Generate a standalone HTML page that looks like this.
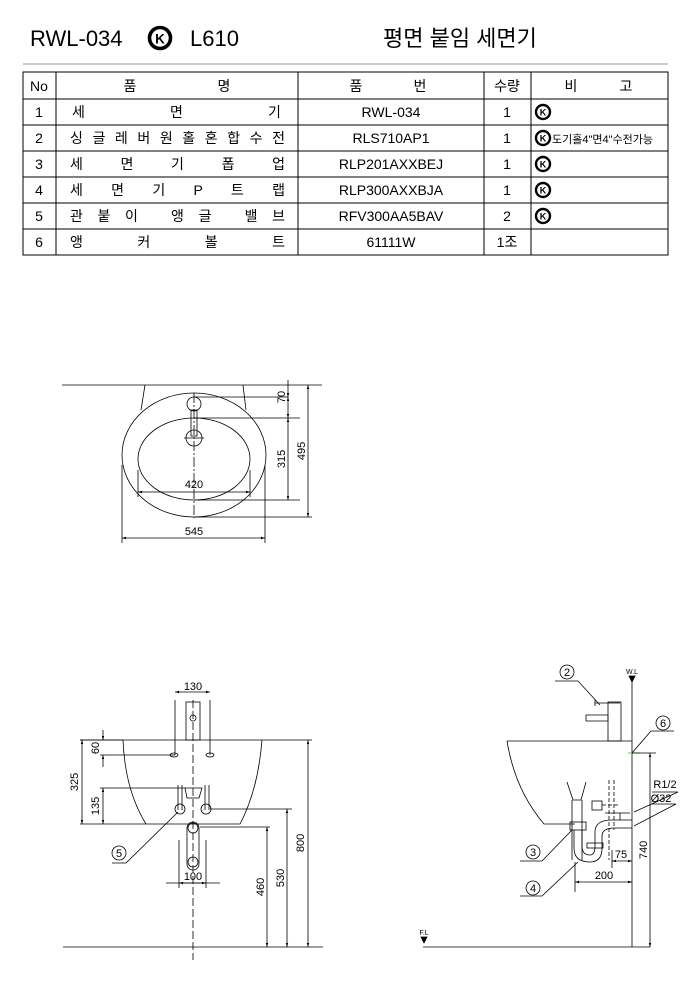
<!DOCTYPE html>
<html><head><meta charset="utf-8"><style>
body{margin:0;background:#fff;}
svg{display:block;font-family:"Liberation Sans","Noto Sans CJK KR",sans-serif;}
</style></head><body>
<svg width="700" height="1006" viewBox="0 0 700 1006" xmlns="http://www.w3.org/2000/svg">
<defs>
<g id="ks"><circle r="7" fill="none" stroke="#000" stroke-width="2.4"/><text x="0" y="3.5" font-size="9" font-weight="bold" text-anchor="middle">K</text></g>
<marker id="a" viewBox="0 0 10 10" refX="10" refY="5" markerWidth="5" markerHeight="5" orient="auto-start-reverse"><path d="M0,2 L10,5 L0,8z" fill="#000"/></marker>
</defs>
<!-- title -->
<text x="30" y="46" font-size="22">RWL-034</text>
<g transform="translate(160,38) scale(1.5)"><use href="#ks"/></g>
<text x="190" y="46" font-size="22">L610</text>
<text x="383" y="46" font-size="22">평면 붙임 세면기</text>
<line x1="23" y1="64" x2="668" y2="64" stroke="#999" stroke-width="1"/>
<!-- table -->
<g stroke="#000" stroke-width="1" fill="none">
<rect x="23" y="72" width="645" height="183"/>
<line x1="56" y1="72" x2="56" y2="255"/><line x1="298" y1="72" x2="298" y2="255"/>
<line x1="484" y1="72" x2="484" y2="255"/><line x1="531" y1="72" x2="531" y2="255"/>
<line x1="23" y1="99" x2="668" y2="99"/><line x1="23" y1="125" x2="668" y2="125"/>
<line x1="23" y1="151" x2="668" y2="151"/><line x1="23" y1="177" x2="668" y2="177"/>
<line x1="23" y1="203" x2="668" y2="203"/><line x1="23" y1="229" x2="668" y2="229"/>
</g>
<g font-size="14" text-anchor="middle">
<text x="39" y="91">No</text><text x="130" y="91">품</text><text x="224" y="91">명</text>
<text x="356" y="91">품</text><text x="420" y="91">번</text><text x="507" y="91">수량</text>
<text x="571" y="91">비</text><text x="626" y="91">고</text>
<text x="39" y="117">1</text><text x="39" y="143">2</text><text x="39" y="169">3</text><text x="39" y="195">4</text><text x="39" y="221">5</text><text x="39" y="247">6</text>
<text x="391" y="117">RWL-034</text><text x="391" y="143">RLS710AP1</text><text x="391" y="169">RLP201AXXBEJ</text>
<text x="391" y="195">RLP300AXXBJA</text><text x="391" y="221">RFV300AA5BAV</text><text x="391" y="247">61111W</text>
<text x="507" y="117">1</text><text x="507" y="143">1</text><text x="507" y="169">1</text><text x="507" y="195">1</text><text x="507" y="221">2</text><text x="507" y="247">1조</text>
</g>
<g font-size="14">
<text x="72" y="117">세</text><text x="170" y="117">면</text><text x="268" y="117">기</text>
<text x="70" y="143" textLength="215" lengthAdjust="spacing">싱글레버원홀혼합수전</text>
<text x="70" y="169" textLength="215" lengthAdjust="spacing">세  면  기  폽  업</text>
<text x="70" y="195" textLength="215" lengthAdjust="spacing">세 면 기 P 트 랩</text>
<text x="70" y="221" textLength="215" lengthAdjust="spacing">관붙이 앵글 밸브</text>
<text x="70" y="247" textLength="215" lengthAdjust="spacing">앵   커   볼   트</text>
<text x="552" y="143" font-size="11">도기홀4"면4"수전가능</text>
</g>
<use href="#ks" x="543" y="112"/><use href="#ks" x="543" y="138"/><use href="#ks" x="543" y="164"/><use href="#ks" x="543" y="190"/><use href="#ks" x="543" y="216"/>

<!-- top view -->
<g stroke="#000" stroke-width="0.8" fill="none">
<line x1="62" y1="385" x2="322" y2="385"/>
<path d="M145,385 L141,410 M243,385 L246,410"/>
<ellipse cx="194" cy="455" rx="72" ry="62"/>
<ellipse cx="194" cy="459" rx="56" ry="41"/>
<circle cx="194" cy="404" r="7"/><circle cx="194" cy="438" r="8"/>
<rect x="191" y="410" width="6" height="26"/>
<line x1="194" y1="393" x2="194" y2="518" stroke-dasharray="10 2 2 2"/>
<line x1="184" y1="438" x2="204" y2="438"/>
<path d="M194,397 L288,397 M194,418 L300,418 M194,500 L300,500 M194,517 L312,517 M122,465 L122,543 M265,465 L265,543 M138,470 L138,497 M250,470 L250,497"/>
<line x1="288" y1="380" x2="288" y2="397" marker-end="url(#a)"/>
<line x1="288" y1="397" x2="288" y2="418" marker-start="url(#a)" marker-end="url(#a)"/>
<line x1="288" y1="418" x2="288" y2="500" marker-start="url(#a)" marker-end="url(#a)"/>
<line x1="308" y1="385" x2="308" y2="517" marker-start="url(#a)" marker-end="url(#a)"/>
<line x1="138" y1="492" x2="250" y2="492" marker-start="url(#a)" marker-end="url(#a)"/>
<line x1="122" y1="538" x2="265" y2="538" marker-start="url(#a)" marker-end="url(#a)"/>
</g>
<g font-size="11" text-anchor="middle">
<text x="194" y="488">420</text><text x="194" y="535">545</text>
<text transform="translate(285,397) rotate(-90)" x="0" y="0">70</text>
<text transform="translate(285,459) rotate(-90)">315</text>
<text transform="translate(305,451) rotate(-90)">495</text>
</g>

<!-- front view -->
<g stroke="#000" stroke-width="0.8" fill="none">
<line x1="80" y1="740" x2="312" y2="740"/>
<path d="M123,740 Q125,790 146,824 L240,824 Q258,790 262,740"/>
<line x1="63" y1="947" x2="323" y2="947"/>
<rect x="186" y="702" width="14" height="38"/>
<circle cx="193" cy="718" r="3"/>
<line x1="193" y1="700" x2="193" y2="960" stroke-dasharray="8 3"/>
<ellipse cx="174" cy="755" rx="4" ry="2"/><ellipse cx="210" cy="755" rx="4" ry="2"/>
<path d="M175,700 L175,755 M210,700 L210,755"/>
<line x1="175" y1="692" x2="210" y2="692" marker-start="url(#a)" marker-end="url(#a)"/>
<path d="M185,788 L202,788 L199,798 L187,798z"/>
<path d="M178,785 L178,810 M182,785 L182,810 M205,785 L205,810 M209,785 L209,810"/>
<circle cx="180" cy="809" r="5"/><circle cx="206" cy="809" r="5"/>
<rect x="187" y="822" width="12" height="48" rx="6"/>
<circle cx="193" cy="828" r="5"/><circle cx="193" cy="862" r="5"/>
<path d="M179,840 L179,888 M206,840 L206,888"/>
<line x1="166" y1="883" x2="220" y2="883"/>
<line x1="179" y1="883" x2="206" y2="883" marker-start="url(#a)" marker-end="url(#a)"/>
<path d="M80,740 L123,740 M80,824 L146,824 M100,755 L175,755 M100,788 L185,788 M210,809 L292,809 M200,827 L270,827"/>
<line x1="82" y1="740" x2="82" y2="824" marker-start="url(#a)" marker-end="url(#a)"/>
<line x1="103" y1="730" x2="103" y2="740" marker-end="url(#a)"/>
<line x1="103" y1="755" x2="103" y2="767" marker-start="url(#a)"/>
<line x1="103" y1="788" x2="103" y2="824" marker-start="url(#a)" marker-end="url(#a)"/>
<line x1="267" y1="827" x2="267" y2="947" marker-start="url(#a)" marker-end="url(#a)"/>
<line x1="287" y1="809" x2="287" y2="947" marker-start="url(#a)" marker-end="url(#a)"/>
<line x1="308" y1="740" x2="308" y2="947" marker-start="url(#a)" marker-end="url(#a)"/>
<circle cx="119" cy="853" r="7"/>
<path d="M112,863 L126,863 L178,812"/>
</g>
<g font-size="11" text-anchor="middle">
<text x="193" y="690">130</text><text x="193" y="880">100</text><text x="119" y="857">5</text>
<text transform="translate(78,782) rotate(-90)">325</text>
<text transform="translate(99,748) rotate(-90)">60</text>
<text transform="translate(99,806) rotate(-90)">135</text>
<text transform="translate(264,887) rotate(-90)">460</text>
<text transform="translate(284,878) rotate(-90)">530</text>
<text transform="translate(304,843) rotate(-90)">800</text>
</g>

<!-- side view -->
<g stroke="#000" stroke-width="0.8" fill="none">
<line x1="632" y1="676" x2="632" y2="947"/>
<path d="M629,676 L635,676 L632,682z" fill="#000"/>
<path d="M507,741 L632,741 M507,741 Q515,790 544,824 L575,824"/>
<line x1="423" y1="947" x2="650" y2="947"/>
<path d="M421,937 L427,937 L424,943z" fill="#000"/>
<rect x="608" y="702" width="13" height="39"/>
<path d="M595,703 L620,703 M586,721 L608,721 L608,715 L586,715z M595,700 L595,706"/>
<path d="M567,782 L573,800 L581,800 L586,782 M572,800 L572,860 M582,800 L582,860"/>
<rect x="570" y="822" width="16" height="8"/>
<path d="M574,830 L574,848 Q574,862 590,862 Q602,862 602,848 L602,836 Q602,828 615,828 L632,828 M582,830 L582,846 Q582,855 590,855 Q595,855 595,846 L595,832 Q595,820 612,820 L632,820"/>
<rect x="587" y="843" width="16" height="5"/>
<rect x="592" y="801" width="10" height="9"/>
<path d="M602,805 L620,805 M609,780 L609,860 M614,780 L614,830" stroke-dasharray="4 2"/>
<path d="M605,813 L630,813 M620,813 L620,820"/>
<circle cx="567" cy="672" r="7"/><path d="M555,681 L578,681 L600,705"/>
<circle cx="663" cy="723" r="7"/><path d="M674,731 L651,731 L632,753"/>
<line x1="628" y1="753" x2="640" y2="753" stroke="#2c2"/>
<circle cx="533" cy="852" r="7"/><path d="M520,861 L542,861 L572,830"/>
<circle cx="533" cy="888" r="7"/><path d="M520,896 L542,896 L578,862"/>
<path d="M652,792 L678,792 L634,812 M652,804 L676,804 L634,826"/>
<line x1="650" y1="753" x2="650" y2="947" marker-start="url(#a)" marker-end="url(#a)"/>
<path d="M632,753 L656,753 M575,862 L575,892 M612,850 L612,868"/>
<line x1="575" y1="882" x2="632" y2="882" marker-start="url(#a)" marker-end="url(#a)"/>
<line x1="612" y1="861" x2="632" y2="861" marker-start="url(#a)" marker-end="url(#a)"/>
</g>
<g font-size="11" text-anchor="middle">
<text x="567" y="676">2</text><text x="663" y="727">6</text><text x="533" y="856">3</text><text x="533" y="892">4</text>
<text x="604" y="879">200</text><text x="621" y="858">75</text>
<text transform="translate(647,850) rotate(-90)">740</text>
<text x="665" y="788">R1/2</text><text x="661" y="802">Ø32</text>
<text x="632" y="674" font-size="7">W.L</text><text x="424" y="935" font-size="7">F.L</text>
</g>
</svg>
</body></html>
